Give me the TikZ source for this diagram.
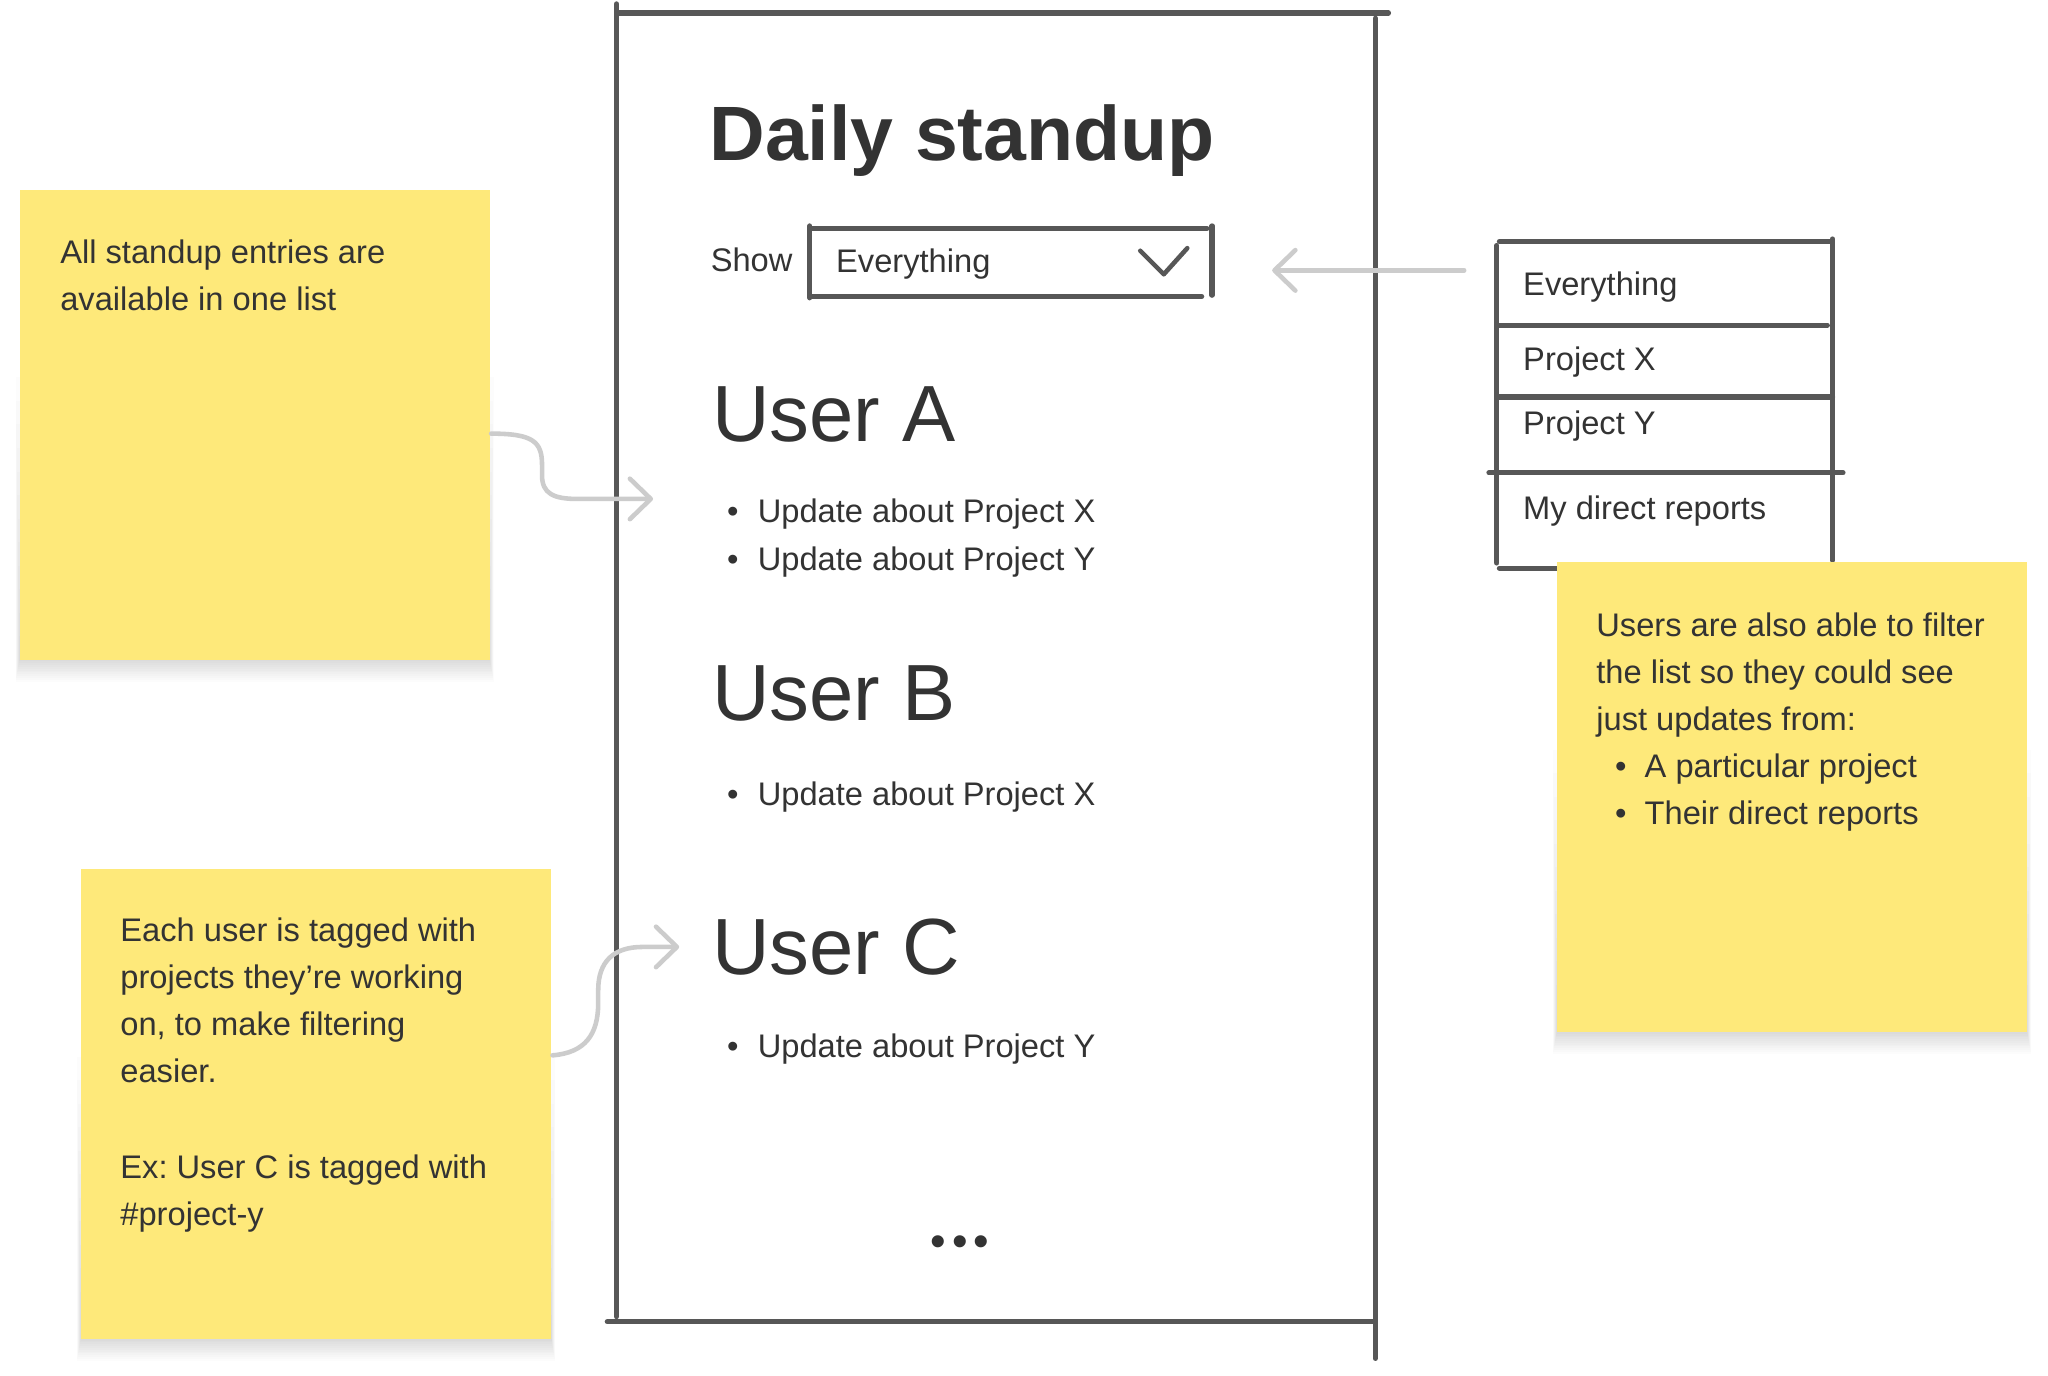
\documentclass[tikz,border=0pt]{standalone}
\usepackage{fontspec}
\setmainfont{Liberation Sans}
\frenchspacing
\usetikzlibrary{arrows.meta}
\definecolor{ink}{HTML}{333333}
\definecolor{framec}{HTML}{575757}
\definecolor{sticky}{HTML}{FEE97A}
\definecolor{connc}{HTML}{CCCCCC}
\tikzset{
  wire/.style={draw=framec, line width=4pt, line cap=round},
  note/.style={fill=sticky, draw=none, minimum width=360pt, minimum height=360pt, inner sep=0pt, anchor=north west},
  txt/.style={text=ink, inner sep=0pt, anchor=base west, font=\fontsize{25}{30}\selectfont},
  bul/.style={text=ink, inner sep=0pt, anchor=base, font=\fontsize{25}{30}\selectfont},
  user/.style={text=ink, inner sep=0pt, anchor=base west, font=\fontsize{61}{70}\selectfont},
  connector/.style={draw=connc, line width=3.5pt, line cap=round, line join=round, -{Straight Barb[length=16pt,width=31pt,round]}},
  shadowlayer/.style={fill=black, opacity=0.011, draw=none},
}
\newcommand{\noteshadow}[2]{%
  \foreach \k in {1,...,12} {
    \fill[shadowlayer] ({#1-0.25*\k},{#2+360-18*\k}) rectangle ({#1+360+0.25*\k},{#2+360+1.4*\k});
  }%
}
\begin{document}
\begin{tikzpicture}[x=1pt,y=-1pt]
\useasboundingbox[fill=white] (0,0) rectangle (1568,1053.5);

% ---------- phone frame ----------
\draw[wire] (472,3) -- (472,1008);
\draw[wire] (473,10) -- (1063,10);
\draw[wire] (1053,14) -- (1053,1040);
\draw[wire] (465,1012) -- (1053,1012);

% title
\node[text=ink, anchor=base west, inner sep=0pt, font=\bfseries\fontsize{59}{70}\selectfont] (title) at (543,123) {Daily standup};

% show dropdown
\node[txt] (show) at (544,208) {Show};
\draw[wire] (620,173) -- (620,228);
\draw[wire] (621,175) -- (924,175);
\draw[wire] (621,227) -- (920,227);
\draw[wire] (928,173) -- (928,226);
\node[txt] (ddtext) at (640,209) {Everything};
\draw[wire, line width=3.5pt, line join=round] (873,192) -- (891,210) -- (909,190);

% users
\node[user] (ua) at (545,338) {User A};
\node[bul] (ua1b) at (561,400) {•};
\node[txt] (ua1) at (580,400) {Update about Project X};
\node[bul] (ua2b) at (561,437) {•};
\node[txt] (ua2) at (580,437) {Update about Project Y};

\node[user] (ub) at (545,552) {User B};
\node[bul] (ub1b) at (561,617) {•};
\node[txt] (ub1) at (580,617) {Update about Project X};

\node[user] (uc) at (545,746) {User C};
\node[bul] (uc1b) at (561,810) {•};
\node[txt] (uc1) at (580,810) {Update about Project Y};

\node[text=ink, inner sep=0pt, anchor=base, font=\fontsize{34}{40}\selectfont] (dots) at (735,962) {•\kern4.5pt•\kern4.5pt•};

% ---------- dropdown list ----------
\draw[wire] (1148,185) -- (1401,185);
\draw[wire] (1146,188) -- (1146,431);
\draw[wire] (1403,183) -- (1403,429);
\draw[wire] (1148,249) -- (1399,249);
\draw[wire] (1148,304) -- (1403,304);
\draw[wire] (1140,362) -- (1411,362);
\draw[wire] (1148,435) -- (1200,435);
\node[txt] (l1) at (1166,226) {Everything};
\node[txt] (l2) at (1166,284) {Project X};
\node[txt] (l3) at (1166,333) {Project Y};
\node[txt] (l4) at (1166,398) {My direct reports};

% ---------- sticky notes ----------
\noteshadow{15}{145}
\node[note] (note1) at (15,145) {};
\node[txt] (n1a) at (46,202) {All standup entries are};
\node[txt] (n1b) at (46,238) {available in one list};

\noteshadow{62}{665}
\node[note] (note2) at (62,665) {};
\node[txt] (n2a) at (92,721) {Each user is tagged with};
\node[txt] (n2b) at (92,757) {projects they’re working};
\node[txt] (n2c) at (92,793) {on, to make filtering};
\node[txt] (n2d) at (92,829) {easier.};
\node[txt] (n2e) at (92,902) {Ex: User C is tagged with};
\node[txt] (n2f) at (92,938) {\#project-y};

\noteshadow{1192}{430}
\node[note] (note3) at (1192,430) {};
\node[txt] (n3a) at (1222,487) {Users are also able to filter};
\node[txt] (n3b) at (1222,523) {the list so they could see};
\node[txt] (n3c) at (1222,559) {just updates from:};
\node[bul] (n3db) at (1241,595) {•};
\node[txt] (n3d) at (1259,595) {A particular project};
\node[bul] (n3eb) at (1241,631) {•};
\node[txt] (n3e) at (1259,631) {Their direct reports};

% ---------- connectors ----------
\coordinate (a1s) at (376,332);
\coordinate (a1e) at (500,382);
\draw[connector] (a1s) .. controls (408,332) and (415,338) .. (415,356) -- (415,364) .. controls (415,378) and (424,382) .. (442,382) -- (a1e);

\coordinate (a2s) at (423,808);
\coordinate (a2e) at (520,725);
\draw[connector] (a2s) .. controls (448,806) and (458,792) .. (458,768) -- (458,758) .. controls (458,736) and (470,725) .. (492,725) -- (a2e);

\coordinate (a3s) at (1121,207);
\coordinate (a3e) at (974,207);
\draw[connector] (a3s) -- (a3e);
\end{tikzpicture}
\end{document}
